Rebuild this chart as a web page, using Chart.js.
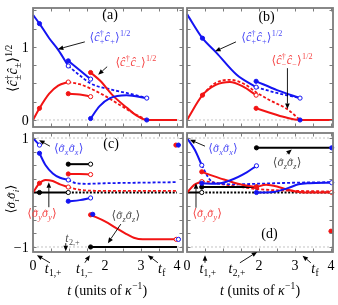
<!DOCTYPE html>
<html>
<head>
<meta charset="utf-8">
<script src="https://cdn.jsdelivr.net/npm/chart.js@4.4.0/dist/chart.umd.min.js"></script>
<style>
  body { margin: 0; background: #fff; }
  #fig { position: relative; width: 338px; height: 305px; }
  #fig canvas { position: absolute; left: 0; top: 0; }
</style>
</head>
<body>
<div id="fig">
  <canvas id="pa" width="338" height="305"></canvas>
  <canvas id="pb" width="338" height="305"></canvas>
  <canvas id="pc" width="338" height="305"></canvas>
  <canvas id="pd" width="338" height="305"></canvas>
</div>
<script>
const BLUE = '#1414f2', RED = '#f21414', BLK = '#000';

// ---- panel (a): <c+^dag c+>^1/2 and <c-^dag c->^1/2, trajectory 1
const aBlue1 = [[0, 1.44], [0.18, 1.32], [0.45, 1.12], [0.7, 0.96], [0.98, 0.74]];
const aBlueNoJump = [[0.98, 0.74], [1.3, 0.61], [1.6, 0.5], [2.14, 0.42], [2.6, 0.37], [3.16, 0.3]];
const aBlue2 = [[0.98, 0.81], [1.3, 0.68], [1.6, 0.56]];
const aBlue3 = [[1.6, 0.02], [1.85, 0.19], [2.14, 0.3], [2.6, 0.34], [3.16, 0.3]];
const aBlueDot = [[3.16, 0]];
const aRed1 = [[0, 0], [0.18, 0.16], [0.45, 0.36], [0.7, 0.47], [0.98, 0.52]];
const aRedNoJump = [[0.98, 0.52], [1.3, 0.49], [1.6, 0.43], [2.0, 0.33], [2.4, 0.21], [2.8, 0.09], [3.16, 0]];
const aRed2 = [[0.98, 0.36], [1.3, 0.35], [1.6, 0.32]];
const aRed3 = [[1.6, 0.65], [1.86, 0.54], [2.23, 0.33], [2.6, 0.17], [2.88, 0.06], [3.16, 0], [4, 0]];

// ---- panel (b): trajectory 2
const bBlue1 = [[0, 1.45], [0.43, 1.12], [0.82, 0.92], [1.38, 0.62], [1.92, 0.45]];
const bBlueNoJump = [[1.92, 0.45], [2.5, 0.37], [3.14, 0.3]];
const bBlue2 = [[1.92, 0.53], [2.5, 0.41], [3.14, 0.3]];
const bBlueDot = [[3.14, 0]];
const bRed1 = [[0, 0], [0.43, 0.34], [0.8, 0.48], [1.19, 0.52], [1.55, 0.46], [1.92, 0.34]];
const bRedNoJump = [[0.43, 0.35], [0.8, 0.51], [1.2, 0.55], [1.6, 0.49], [1.92, 0.38], [2.3, 0.27], [2.78, 0.15], [3.14, 0]];
const bRed2 = [[1.92, 0.16], [2.3, 0.1], [2.7, 0.04], [3.14, 0], [4.05, 0]];

// ---- panel (c): <sigma_i sigma_i>, trajectory 1
const cBlue1 = [[0, 1.0], [0.18, 0.87]];
const cBlue2 = [[0.18, 0.72], [0.35, 0.5], [0.55, 0.35], [0.75, 0.27], [0.98, 0.23]];
const cBlueNoJump = [[0.98, 0.23], [1.2, 0.17], [1.5, 0.16], [2, 0.17], [3, 0.18], [4, 0.19]];
const cBlue3 = [[0.98, -0.16], [1.3, -0.14], [1.6, -0.1]];
const cBlueDots = [[1.66, -0.4], [4.04, 0.87]];
const cBlueOpen = [[4.04, -0.86]];
const cRed1 = [[0, 0], [0.18, 0.17], [0.35, 0.23], [0.55, 0.21], [0.75, 0.15], [0.98, 0.1]];
const cRedNoJump = [[0.98, 0.1], [1.3, 0.05], [2, 0.03], [4, 0.03]];
const cRed2 = [[0.98, 0.34], [1.3, 0.34], [1.6, 0.33]];
const cRed3 = [[1.6, -0.41], [2.0, -0.53], [2.3, -0.65], [2.56, -0.75], [2.8, -0.83], [3.05, -0.86], [3.98, -0.86]];
const cRedDots = [[3.97, 0.87]];
const cBlack1 = [[0, 0], [0.18, 0], [0.98, 0]];
const cBlackNoJump = [[0.98, 0], [4, 0]];
const cBlack2 = [[0.98, 0.52], [1.6, 0.52]];
const cBlack3 = [[1.6, -1], [4, -1]];

// ---- panel (d): trajectory 2
const dBlue1 = [[0, 1.0], [0.22, 0.78], [0.41, 0.5]];
const dBlueNoJump = [[0.41, 0.5], [0.64, 0.23], [0.92, 0.16], [1.4, 0.15], [1.93, 0.16], [3, 0.18], [4.02, 0.19]];
const dBlue2 = [[0.41, 0.17], [0.8, 0.16], [1.19, 0.22], [1.66, 0.37], [1.93, 0.49]];
const dBlue3 = [[1.93, 0], [2.4, 0.01], [2.8, 0.08], [3.1, 0.15], [3.4, 0.17], [4.02, 0.18]];
const dBlueDots = [[4.02, 0.82]];
const dRed1 = [[0, 0], [0.2, 0.14], [0.41, 0.2]];
const dRedNoJump = [[0.41, 0.2], [0.7, 0.19], [1.0, 0.15], [1.5, 0.1], [2, 0.06], [3, 0.03], [4.02, 0.02]];
const dRed2 = [[0.41, 0.38], [0.7, 0.31], [0.92, 0.26], [1.47, 0.15], [1.93, 0.1]];
const dRed3 = [[1.93, 0.1], [2.2, 0.14], [2.5, 0.11], [2.8, 0.05], [3.1, 0.01], [3.4, 0], [4.02, 0]];
const dRedDots = [[4.0, -0.71]];
const dBlack1 = [[0, 0], [0.41, 0]];
const dBlackNoJump = [[0.41, 0], [4.02, 0]];
const dBlack2 = [[0.41, 0.1], [1.93, 0.1]];
const dBlack3 = [[1.93, 0.82], [4.02, 0.82]];

// ticks
const tTicks = [0, 0.5, 1, 1.5, 2, 2.5, 3, 3.5, 4];
const cTicksAB = [0, 0.25, 0.5, 0.75, 1, 1.25, 1.5];
const sTicksCD = [-1, -0.75, -0.5, -0.25, 0, 0.25, 0.5, 0.75, 1];
const tLabels = ['0', '2', '3', '4'];
const tLabelPos = [0, 2, 3, 4];

const R = 2.1;
function line(pts, color, opt) {
  opt = opt || {};
  const n = pts.length;
  const rad = pts.map(() => 0), bg = pts.map(() => color);
  (opt.filled || []).forEach(i => { rad[i < 0 ? n + i : i] = R; });
  (opt.open || []).forEach(i => { const k = i < 0 ? n + i : i; rad[k] = R; bg[k] = '#fff'; });
  return {
    data: pts.map(p => ({x: p[0], y: p[1]})),
    showLine: true, borderColor: color, borderWidth: opt.dash ? 1.8 : 2,
    borderDash: opt.dash || [], cubicInterpolationMode: 'monotone',
    pointRadius: rad, pointBackgroundColor: bg, pointBorderColor: color, pointBorderWidth: 1,
    clip: 4
  };
}
function dots(pts, color, open) {
  return {
    data: pts.map(p => ({x: p[0], y: p[1]})), showLine: false,
    pointRadius: R, pointBackgroundColor: open ? '#fff' : color,
    pointBorderColor: color, pointBorderWidth: 1, clip: 4
  };
}
const DASH = [3, 2], DOT = [2, 1.6];

// rich text: [text, italic, sub, sup, subItalic, hat]
const FONT = '"Liberation Serif", "DejaVu Serif", serif';
function font(sz, it) { return (it ? 'italic ' : '') + sz + 'px ' + FONT; }
function runRich(ctx, parts, x, y, size, draw) {
  let cx = x;
  for (const p of parts) {
    const [txt, it, sub, sup, subIt, hat] = p;
    ctx.font = font(size, it);
    const tw = ctx.measureText(txt).width;
    if (draw) {
      ctx.fillText(txt, cx, y);
      if (hat) {
        const hx = cx + tw / 2 + size * 0.06, hy = y - size * 0.6;
        ctx.save();
        ctx.strokeStyle = ctx.fillStyle; ctx.lineWidth = 0.8;
        ctx.beginPath();
        ctx.moveTo(hx - size * 0.15, hy + size * 0.11);
        ctx.lineTo(hx, hy);
        ctx.lineTo(hx + size * 0.15, hy + size * 0.11);
        ctx.stroke();
        ctx.restore();
      }
    }
    cx += tw;
    const s = size * 0.68;
    let adv = 0;
    if (sub) {
      ctx.font = font(s, subIt);
      if (draw) ctx.fillText(sub, cx + 0.3, y + size * 0.26);
      adv = Math.max(adv, ctx.measureText(sub).width + 0.5);
    }
    if (sup) {
      ctx.font = font(s, false);
      if (draw) ctx.fillText(sup, cx + 0.3, y - size * 0.42);
      adv = Math.max(adv, ctx.measureText(sup).width + 0.5);
    }
    cx += adv;
  }
  return cx - x;
}
function drawRich(ctx, parts, x, y, size, color, align, rot) {
  ctx.save();
  ctx.fillStyle = color; ctx.textBaseline = 'alphabetic'; ctx.textAlign = 'left';
  const w = runRich(ctx, parts, 0, 0, size, false);
  ctx.translate(x, y);
  if (rot) ctx.rotate(-Math.PI / 2);
  const x0 = align === 'right' ? -w : align === 'left' ? 0 : -w / 2;
  runRich(ctx, parts, x0, size * 0.33, size, true);
  ctx.restore();
}
function arrow(ctx, x1, y1, x2, y2) {
  ctx.save();
  ctx.strokeStyle = '#000'; ctx.fillStyle = '#000'; ctx.lineWidth = 0.9;
  const a = Math.atan2(y2 - y1, x2 - x1), L = 5.5, W = 2.3;
  const bx = x2 - L * Math.cos(a), by = y2 - L * Math.sin(a);
  ctx.beginPath(); ctx.moveTo(x1, y1); ctx.lineTo(bx, by); ctx.stroke();
  ctx.beginPath(); ctx.moveTo(x2, y2);
  ctx.lineTo(bx - W * Math.sin(a), by + W * Math.cos(a));
  ctx.lineTo(bx + W * Math.sin(a), by - W * Math.cos(a));
  ctx.closePath(); ctx.fill();
  ctx.restore();
}

const LBLUE = '#4b4bf5', LRED = '#f54848', GRAY = '#4d4d4d';
const cPlusTxt = [['⟨'], ['ĉ', 1, '+', '†'], ['ĉ', 1, '+'], ['⟩', 0, '', '1/2']];
const cMinusTxt = [['⟨'], ['ĉ', 1, '−', '†'], ['ĉ', 1, '−'], ['⟩', 0, '', '1/2']];
const cPMTxt = [['⟨'], ['ĉ', 1, '±', '†'], ['ĉ', 1, '±'], ['⟩', 0, '', '1/2']];
const sig = (k) => [['⟨'], ['σ', 1, k, '', 1, 1], ['σ', 1, k, '', 1, 1], ['⟩']];
const tsub = (s) => [['t', 1, s]];
const axisTxt = [['t', 1], [' (units of '], ['κ', 1, '', '−1'], [')']];

function decor(spec) {
  return {
    id: 'decor',
    beforeDatasetsDraw(chart) {
      const {ctx, chartArea: a, scales: {y}} = chart;
      ctx.save();
      ctx.strokeStyle = '#b4b4b4'; ctx.lineWidth = 0.8; ctx.setLineDash([2, 2]);
      spec.refLines.forEach(v => {
        const py = y.getPixelForValue(v);
        ctx.beginPath(); ctx.moveTo(a.left, py); ctx.lineTo(a.right, py); ctx.stroke();
      });
      ctx.restore();
    },
    afterDraw(chart) {
      const {ctx, chartArea: a, scales: {x, y}} = chart;
      ctx.save();
      ctx.strokeStyle = '#7c7c7c'; ctx.lineWidth = 1;
      tTicks.forEach(v => {
        const px = Math.round(x.getPixelForValue(v)) + 0.5;
        ctx.beginPath();
        ctx.moveTo(px, a.bottom); ctx.lineTo(px, a.bottom - 3.5);
        ctx.moveTo(px, a.top); ctx.lineTo(px, a.top + 3.5);
        ctx.stroke();
      });
      spec.yTicks.forEach(v => {
        const py = Math.round(y.getPixelForValue(v)) + 0.5;
        ctx.beginPath();
        ctx.moveTo(a.left, py); ctx.lineTo(a.left + 3.5, py);
        ctx.moveTo(a.right, py); ctx.lineTo(a.right - 3.5, py);
        ctx.stroke();
      });
      ctx.lineWidth = 1.8;
      ctx.strokeRect(a.left, a.top, a.right - a.left, a.bottom - a.top);
      ctx.restore();
      spec.arrows.forEach(r => arrow(ctx, x.getPixelForValue(r[0]), y.getPixelForValue(r[1]),
        x.getPixelForValue(r[2]), y.getPixelForValue(r[3])));
      spec.texts.forEach(s => drawRich(ctx, s.p, x.getPixelForValue(s.t), y.getPixelForValue(s.y),
        s.size || 12, s.color || '#000', s.align, s.rot));
    }
  };
}

function panel(id, box, xr, yr, datasets, spec) {
  new Chart(document.getElementById(id), {
    type: 'scatter',
    data: {datasets: datasets.slice().reverse()},
    options: {
      responsive: false, animation: false, devicePixelRatio: 1,
      layout: {padding: {left: box[0], top: box[1], right: 338 - box[2], bottom: 305 - box[3]}},
      scales: {
        x: {type: 'linear', min: xr[0], max: xr[1], display: false},
        y: {type: 'linear', min: yr[0], max: yr[1], display: false}
      },
      plugins: {legend: {display: false}, tooltip: {enabled: false}},
      events: []
    },
    plugins: [decor(spec)]
  });
}

const xTickTexts = (yv) => tLabels.map((s, i) => ({p: [[s]], t: tLabelPos[i], y: yv, size: 14}));

panel('pa', [33, 8, 183, 127], [0, 4.167], [-0.096, 1.534], [
  line(aBlueNoJump, BLUE, {dash: DASH}),
  line(aRedNoJump, RED, {dash: DASH}),
  line(aBlue1, BLUE, {filled: [1], open: [-1]}),
  line(aRed1, RED, {filled: [1], open: [-1]}),
  line(aBlue2, BLUE, {filled: [0], open: [-1]}),
  line(aRed2, RED, {filled: [0], open: [-1]}),
  line(aRed3, RED, {filled: [0]}),
  line(aBlue3, BLUE, {filled: [0], open: [-1]}),
  dots(aBlueDot, BLUE)
], {
  refLines: [0], yTicks: cTicksAB,
  arrows: [[1.44, 1.07, 0.69, 0.97], [2.06, 0.73, 1.81, 0.62]],
  texts: [
    {p: [['(a)']], t: 2.14, y: 1.44, size: 14},
    {p: cPlusTxt, t: 2.14, y: 1.14, color: LBLUE},
    {p: cMinusTxt, t: 2.86, y: 0.79, color: LRED},
    {p: [['1']], t: -0.12, y: 1, size: 14, align: 'right'},
    {p: [['0']], t: -0.12, y: 0, size: 14, align: 'right'},
    {p: cPMTxt, t: -0.56, y: 0.71, size: 14, rot: true}
  ]
});

panel('pb', [187, 8, 333, 127], [0, 4.056], [-0.096, 1.534], [
  line(bBlueNoJump, BLUE, {dash: DASH}),
  line(bRedNoJump, RED, {dash: DASH}),
  line(bBlue1, BLUE, {filled: [1], open: [-1]}),
  line(bRed1, RED, {filled: [1], open: [-1]}),
  line(bBlue2, BLUE, {filled: [0], open: [-1]}),
  line(bRed2, RED, {filled: [0]}),
  dots(bBlueDot, BLUE)
], {
  refLines: [0], yTicks: cTicksAB,
  arrows: [[1.36, 1.07, 0.78, 0.94], [2.79, 0.71, 2.79, 0.15]],
  texts: [
    {p: [['(b)']], t: 2.21, y: 1.42, size: 14},
    {p: cPlusTxt, t: 2.08, y: 1.14, color: LBLUE},
    {p: cMinusTxt, t: 2.92, y: 0.82, color: LRED}
  ]
});

panel('pc', [33, 133, 183, 252], [0, 4.167], [-1.092, 1.092], [
  line(cBlackNoJump, BLK, {dash: DOT}),
  line(cRedNoJump, RED, {dash: DASH}),
  line(cBlueNoJump, BLUE, {dash: DASH}),
  line(cBlack1, BLK, {filled: [1], open: [-1]}),
  line(cRed1, RED, {filled: [1], open: [-1]}),
  line(cBlue1, BLUE, {open: [-1]}),
  line(cBlue2, BLUE, {filled: [0], open: [-1]}),
  line(cBlack2, BLK, {filled: [0], open: [-1]}),
  line(cRed2, RED, {filled: [0], open: [-1]}),
  line(cBlue3, BLUE, {filled: [0], open: [-1]}),
  line(cBlack3, BLK, {filled: [0]}),
  line(cRed3, RED, {filled: [0], open: [-1]}),
  dots(cBlueOpen, BLUE, true),
  dots(cRedDots, RED),
  dots(cBlueDots, BLUE)
], {
  refLines: [1, -1], yTicks: sTicksCD,
  arrows: [[0.47, 0.85, 0.17, 0.96], [0.44, -0.27, 0.44, 0.19], [2.44, -0.58, 2.08, -0.93],
    [0.91, -0.93, 0.91, -1.08], [0.47, -1.29, 0.11, -1.15], [1.44, -1.29, 1.58, -1.15], [3.47, -1.29, 3.19, -1.15]],
  texts: [
    {p: [['(c)']], t: 2.17, y: 0.91, size: 14},
    {p: sig('x'), t: 0.99, y: 0.82, color: LBLUE},
    {p: sig('y'), t: 0.25, y: -0.38, color: LRED},
    {p: sig('z'), t: 2.58, y: -0.41, color: GRAY},
    {p: tsub('2,+'), t: 1.1, y: -0.84, size: 12, color: GRAY},
    {p: [['1']], t: -0.12, y: 1, size: 14, align: 'right'},
    {p: [['−1']], t: -0.12, y: -1, size: 14, align: 'right'},
    {p: sig('i'), t: -0.61, y: -0.12, size: 13, rot: true},
    ...xTickTexts(-1.33),
    {p: tsub('1,+'), t: 0.56, y: -1.385, size: 14},
    {p: tsub('1,−'), t: 1.43, y: -1.385, size: 14},
    {p: [['t', 1, 'f']], t: 3.58, y: -1.385, size: 14},
    {p: axisTxt, t: 2.06, y: -1.79, size: 14}
  ]
});

panel('pd', [187, 133, 333, 252], [0, 4.056], [-1.092, 1.092], [
  line(dBlackNoJump, BLK, {dash: DOT}),
  line(dRedNoJump, RED, {dash: DASH}),
  line(dBlueNoJump, BLUE, {dash: DASH}),
  line(dBlack1, BLK, {open: [-1]}),
  line(dRed1, RED, {open: [-1]}),
  line(dBlue1, BLUE, {open: [-1]}),
  line(dBlack2, BLK, {filled: [0], open: [-1]}),
  line(dRed2, RED, {filled: [0], open: [-1]}),
  line(dBlue2, BLUE, {filled: [0], open: [-1]}),
  line(dRed3, RED, {filled: [0], open: [-1]}),
  line(dBlue3, BLUE, {filled: [0], open: [-1]}),
  line(dBlack3, BLK, {filled: [0]}),
  dots(dBlueDots, BLUE),
  dots(dRedDots, RED)
], {
  refLines: [1, -1], yTicks: sTicksCD,
  arrows: [[0.5, 0.85, 0.08, 0.97], [2.77, 0.71, 2.91, 0.79], [0.25, -0.28, 0.25, 0.17],
    [0.5, -1.29, 0.5, -1.15], [1.47, -1.29, 1.95, -1.09], [3.44, -1.29, 3.21, -1.16]],
  texts: [
    {p: [['(d)']], t: 2.29, y: -0.75, size: 14},
    {p: sig('x'), t: 1.0, y: 0.82, color: LBLUE},
    {p: sig('z'), t: 2.78, y: 0.56, color: GRAY},
    {p: sig('y'), t: 0.56, y: -0.38, color: LRED},
    ...xTickTexts(-1.33),
    {p: tsub('1,+'), t: 0.58, y: -1.385, size: 14},
    {p: tsub('2,+'), t: 1.39, y: -1.385, size: 14},
    {p: [['t', 1, 'f']], t: 3.56, y: -1.385, size: 14},
    {p: axisTxt, t: 2.03, y: -1.79, size: 14}
  ]
});
</script>
</body>
</html>
